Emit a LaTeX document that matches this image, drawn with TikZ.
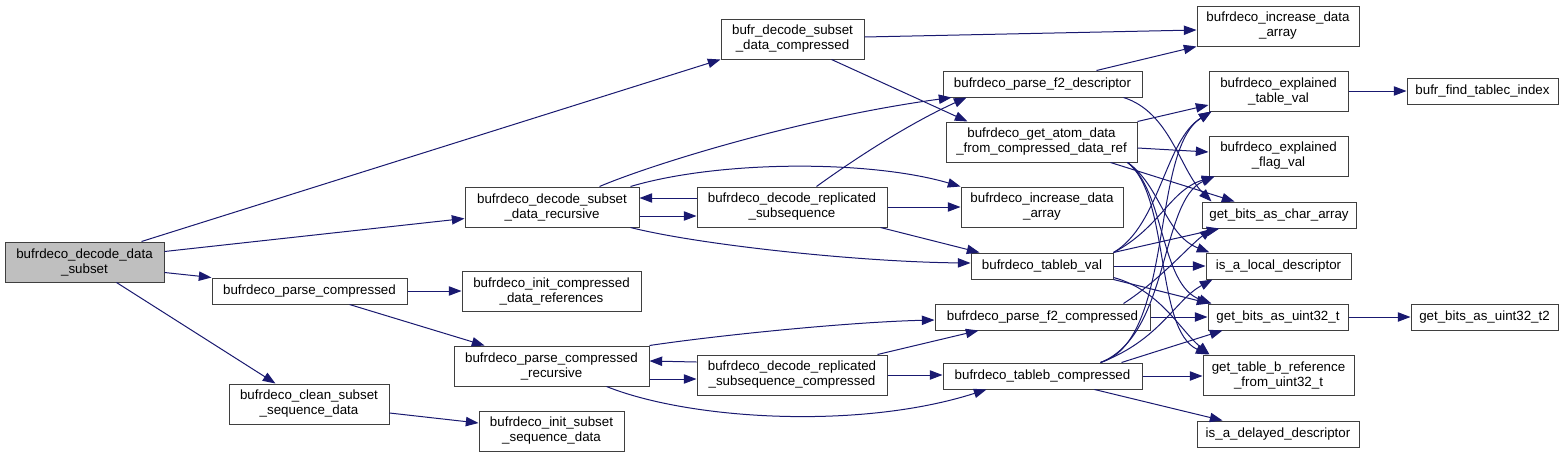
\documentclass[tikz,border=0pt]{standalone}
\usepackage{fontspec}
\setmainfont{Liberation Sans}
\usetikzlibrary{arrows.meta,calc}
\definecolor{edgec}{HTML}{191970}
\definecolor{boxc}{HTML}{3F3F3F}
\definecolor{mainfill}{HTML}{BFBFBF}
\newcommand\bx[7][]{\node[box,#1,minimum width={0.75pt*(#5-#3)},minimum height={0.75pt*(#6-#4)}] (#2) at ({(#3+#5)/2},{(#4+#6)/2}) {#7};}
\begin{document}
\begin{tikzpicture}[x=0.75pt,y=-0.75pt,
  box/.style={draw=boxc,line width=0.75pt,inner sep=0pt,align=center,fill=white,font=\fontsize{10}{11.25}\selectfont},
  conn/.style={draw=edgec,line width=0.75pt,-{Triangle[length=9.5pt,width=7pt]}}]
\fill[white] (0,0) rectangle (1567,457);
\useasboundingbox (0,0) rectangle (1567,457);
% nodes
\bx[fill=mainfill]{main}{5}{242}{164}{282}{bufrdeco\_decode\_data\\\_subset}
\bx{bdsdc}{721}{19}{864}{59}{bufr\_decode\_subset\\\_data\_compressed}
\bx{dsdr}{465}{187}{639}{227}{bufrdeco\_decode\_subset\\\_data\_recursive}
\bx{drs}{697}{187}{887}{227}{bufrdeco\_decode\_replicated\\\_subsequence}
\bx{pc}{212}{278}{407}{304}{bufrdeco\_parse\_compressed}
\bx{icdr}{462}{271}{641}{311}{bufrdeco\_init\_compressed\\\_data\_references}
\bx{pcr}{454}{346}{649}{386}{bufrdeco\_parse\_compressed\\\_recursive}
\bx{drsc}{697}{355}{887}{395}{bufrdeco\_decode\_replicated\\\_subsequence\_compressed}
\bx{cssd}{229}{384}{389}{424}{bufrdeco\_clean\_subset\\\_sequence\_data}
\bx{issd}{479}{411}{624}{451}{bufrdeco\_init\_subset\\\_sequence\_data}
\bx{ida1}{1197}{6}{1359}{46}{bufrdeco\_increase\_data\\\_array}
\bx{pf2d}{943}{71}{1142}{97}{bufrdeco\_parse\_f2\_descriptor}
\bx{gad}{946}{122}{1137}{162}{bufrdeco\_get\_atom\_data\\\_from\_compressed\_data\_ref}
\bx{ida2}{961}{187}{1123}{227}{bufrdeco\_increase\_data\\\_array}
\bx{etv}{1209}{71}{1348}{111}{bufrdeco\_explained\\\_table\_val}
\bx{fti}{1407}{78}{1558}{104}{bufr\_find\_tablec\_index}
\bx{efv}{1209}{136}{1348}{176}{bufrdeco\_explained\\\_flag\_val}
\bx{gbca}{1202}{202}{1356}{228}{get\_bits\_as\_char\_array}
\bx{tbv}{971}{253}{1113}{279}{bufrdeco\_tableb\_val}
\bx{ild}{1206}{253}{1351}{279}{is\_a\_local\_descriptor}
\bx{pf2c}{935}{304}{1150}{330}{bufrdeco\_parse\_f2\_compressed}
\bx{gbu}{1208}{304}{1348}{330}{get\_bits\_as\_uint32\_t}
\bx{gbu2}{1411}{304}{1558}{330}{get\_bits\_as\_uint32\_t2}
\bx{tbc}{943}{363}{1142}{389}{bufrdeco\_tableb\_compressed}
\bx{gtbr}{1203}{355}{1354}{395}{get\_table\_b\_reference\\\_from\_uint32\_t}
\bx{iadd}{1197}{421}{1359}{447}{is\_a\_delayed\_descriptor}
% edges
\draw[conn] ($(main.north west)+(137,0)$) -- (bdsdc.south west);
\draw[conn] ($(main.north east)+(0,10)$) -- ($(dsdr.south west)+(0,-9)$);
\draw[conn] ($(main.south east)+(0,-10)$) -- (pc.north west);
\draw[conn] ($(main.south west)+(112,0)$) -- ($(cssd.north west)+(47,0)$);
\draw[conn] ($(cssd.east)+(0,9)$) -- ($(issd.west)+(0,-8)$);
\draw[conn] (pc.east) -- (icdr.west);
\draw[conn] ($(pc.south west)+(138,0)$) -- ($(pcr.north west)+(31,0)$);
\draw[conn] ($(bdsdc.east)+(0,-2)$) -- ($(ida1.west)+(0,4)$);
\draw[conn] ($(bdsdc.south west)+(111,0)$) -- ($(gad.north west)+(22,0)$);
\draw[conn] ($(dsdr.north west)+(135,0)$) .. controls (650,165) and (800,118) .. ($(pf2d.south west)+(9,0)$);
\draw[conn] ($(drs.north west)+(120,0)$) .. controls (867,150) and (917,120) .. ($(pf2d.south west)+(24,0)$);
\draw[conn] ($(drs.west)+(0,-9)$) -- ($(dsdr.east)+(0,-9)$);
\draw[conn] ($(dsdr.east)+(0,9)$) -- ($(drs.west)+(0,9)$);
\draw[conn] ($(dsdr.north east)+(-9,0)$) .. controls (720,160) and (870,160) .. (ida2.north west);
\draw[conn] (drs.east) -- (ida2.west);
\draw[conn] ($(dsdr.south east)+(-9,0)$) .. controls (700,245) and (860,262) .. ($(tbv.west)+(0,-3)$);
\draw[conn] ($(drs.south east)+(-7,0)$) -- ($(tbv.north west)+(9,0)$);
\draw[conn] (pcr.north east) .. controls (720,335) and (850,322) .. ($(pf2c.west)+(0,3)$);
\draw[conn] ($(pcr.east)+(0,13)$) -- ($(drsc.west)+(0,4)$);
\draw[conn] ($(drsc.west)+(0,-13)$) -- ($(pcr.east)+(0,-5)$);
\draw[conn] ($(pcr.south west)+(153,0)$) .. controls (690,420) and (860,430) .. ($(tbc.south west)+(44,0)$);
\draw[conn] ($(drsc.north east)+(-10,0)$) -- ($(pf2c.south west)+(44,0)$);
\draw[conn] (drsc.east) -- (drsc.east -| tbc.west);
\draw[conn] ($(pf2d.north west)+(154,0)$) -- (ida1.south west);
\draw[conn] (gad.north east) -- ($(etv.west)+(0,14)$);
\draw[conn] ($(gad.east)+(0,6)$) -- ($(efv.west)+(0,-4)$);
\draw[conn] ($(gad.south east)+(-27,0)$) -- ($(gbca.north west)+(33,0)$);
\draw[conn] ($(pf2d.south east)+(-19,0)$) .. controls (1170,112) and (1180,170) .. ($(gbca.north west)+(10,0)$);
\draw[conn] ($(gad.south east)+(-10,0)$) .. controls (1160,185) and (1165,235) .. ($(ild.north west)+(4,0)$);
\draw[conn] ($(gad.south east)+(-10,0)$) .. controls (1165,190) and (1160,285) .. ($(gbu.north west)+(4,0)$);
\draw[conn] ($(gad.south east)+(-10,0)$) .. controls (1170,195) and (1155,330) .. ($(gtbr.north west)+(6,0)$);
\draw[conn] (etv) -- (fti);
\draw[conn] (gbu) -- (gbu2);
\draw[conn] (tbv.north east) .. controls (1160,225) and (1165,140) .. ($(etv.south west)+(3,0)$);
\draw[conn] (tbv.north east) .. controls (1160,228) and (1170,190) .. ($(efv.south west)+(6,0)$);
\draw[conn] (tbv.north east) -- ($(gbca.south west)+(18,0)$);
\draw[conn] (tbv) -- (ild);
\draw[conn] (tbv.south east) -- ($(gbu.north west)+(2,0)$);
\draw[conn] ($(tbv.south east)+(0,-2)$) .. controls (1160,290) and (1180,330) .. ($(gtbr.north west)+(7,0)$);
\draw[conn] ($(pf2c.north east)+(-27,0)$) .. controls (1160,280) and (1190,245) .. ($(gbca.south west)+(11,0)$);
\draw[conn] (pf2c) -- (gbu);
\draw[conn] ($(tbc.north east)+(-42,0)$) .. controls (1175,340) and (1150,150) .. ($(etv.south west)+(3,0)$);
\draw[conn] ($(tbc.north east)+(-42,0)$) .. controls (1170,335) and (1160,200) .. ($(efv.south west)+(6,0)$);
\draw[conn] ($(tbc.north east)+(-42,0)$) .. controls (1160,340) and (1175,300) .. ($(ild.south west)+(7,0)$);
\draw[conn] ($(tbc.north east)+(-21,0)$) -- ($(gbu.south west)+(15,0)$);
\draw[conn] (tbc.east) -- (tbc.east -| gtbr.west);
\draw[conn] ($(tbc.south west)+(152,0)$) -- ($(iadd.north west)+(26,0)$);
\end{tikzpicture}
\end{document}
